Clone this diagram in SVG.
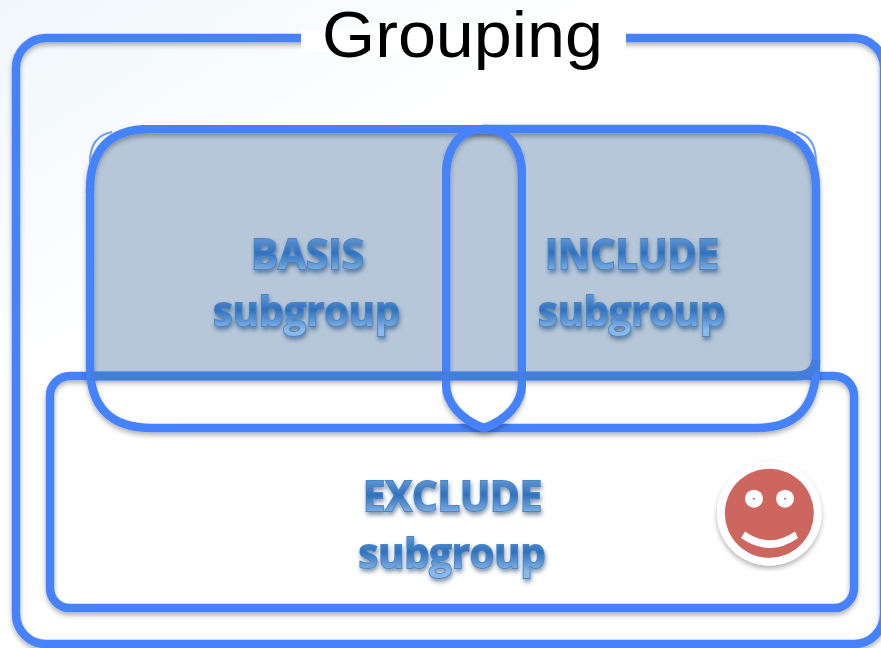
<svg xmlns="http://www.w3.org/2000/svg" width="881" height="648" viewBox="0 0 881 648">
<style>
.box{fill:none;stroke:#4482fb;stroke-width:8.500;stroke-linejoin:round}
.lbl{font-family:"Open Sans","Noto Sans",sans-serif;font-weight:700;font-size:41px;fill:url(#tg);stroke:#4a86c8;stroke-width:1.800;paint-order:stroke;text-anchor:middle;filter:url(#ts)}
</style>
<defs>
<linearGradient id="bg" x1="0" y1="0" x2="0.3" y2="0.35"><stop offset="0" stop-color="#f0f7fb"/><stop offset="1" stop-color="#ffffff"/></linearGradient>
<linearGradient id="tg" x1="0" y1="0" x2="0" y2="1"><stop offset="0.15" stop-color="#6ea0d8"/><stop offset="0.5" stop-color="#2f71bd"/><stop offset="0.85" stop-color="#8ab8ea"/></linearGradient>
<filter id="sh" x="-5%" y="-5%" width="110%" height="110%"><feDropShadow dx="0" dy="3" stdDeviation="2.500" flood-color="#000" flood-opacity="0.3"/></filter>
<filter id="ts" x="-10%" y="-10%" width="120%" height="130%"><feDropShadow dx="1" dy="3" stdDeviation="2" flood-color="#1d3c66" flood-opacity="0.55"/></filter>
</defs>
<rect width="881" height="648" fill="url(#bg)"/>
<g id="grouping">
<rect class="box" x="16" y="38" width="868" height="606" rx="30" filter="url(#sh)"/>
<rect x="301" y="30" width="325" height="22" fill="#fff"/>
<text x="462.500" y="57" font-family="'Liberation Sans',sans-serif" font-size="64" text-anchor="middle" textLength="281" lengthAdjust="spacingAndGlyphs" fill="#000">Grouping</text>
</g>
<g id="basis-include-fill">
<path d="M94 376V190Q94 129 150 129H760Q816 129 816 190V376Z" fill="#b6c7d9"/>
</g>
<g id="exclude">
<rect class="box" x="50" y="376" width="804" height="232" rx="20" filter="url(#sh)"/>
<text class="lbl" x="452.500" y="511" textLength="179" lengthAdjust="spacingAndGlyphs">EXCLUDE</text>
<text class="lbl" x="452" y="568" textLength="187" lengthAdjust="spacingAndGlyphs">subgroup</text>
</g>
<g id="basis">
<path class="box" d="M90 190Q90 129 150 129H484" filter="url(#sh)"/>
<path class="box" d="M90 190V366Q90 428 152 428H484" filter="url(#sh)"/>
<path d="M90 162Q90 136 112 132" fill="none" stroke="#6d9bf0" stroke-width="2"/>
<text class="lbl" x="307.500" y="269" textLength="113" lengthAdjust="spacingAndGlyphs">BASIS</text>
<text class="lbl" x="306.500" y="326" textLength="187" lengthAdjust="spacingAndGlyphs">subgroup</text>
</g>
<g id="include">
<path class="box" d="M484 129H758Q816 129 816 190V366Q816 428 756 428H484" filter="url(#sh)"/>
<path d="M816 162Q816 136 796 132" fill="none" stroke="#6d9bf0" stroke-width="2"/>
<text class="lbl" x="632" y="269" textLength="174" lengthAdjust="spacingAndGlyphs">INCLUDE</text>
<text class="lbl" x="631.500" y="326" textLength="187" lengthAdjust="spacingAndGlyphs">subgroup</text>
</g>
<g id="overlap">
<path class="box" d="M484 129C510 129 522 150 522 176V384C522 403 507 420 484 428C461 420 446 403 446 384V176C446 150 458 129 484 129Z" filter="url(#sh)"/>
</g>
<g id="band">
<path d="M90 376H796Q814 376 816 360" stroke="#437ddd" stroke-width="9" fill="none"/>
</g>
<g id="smiley">
<circle cx="769.300" cy="513.300" r="52.300" fill="#fff" filter="url(#sh)"/>
<circle cx="769.300" cy="513.300" r="44.500" fill="#cc665f"/>
<circle cx="754" cy="498.700" r="9" fill="#fff"/>
<circle cx="785" cy="498.700" r="9" fill="#fff"/>
<circle cx="754" cy="498.700" r="1" fill="#cc665f"/>
<circle cx="785" cy="498.700" r="1" fill="#cc665f"/>
<path d="M741 538L745 531.500Q770 549 795 531.500L798 538Q770 558 741 538Z" fill="#fff"/>
</g>
</svg>
